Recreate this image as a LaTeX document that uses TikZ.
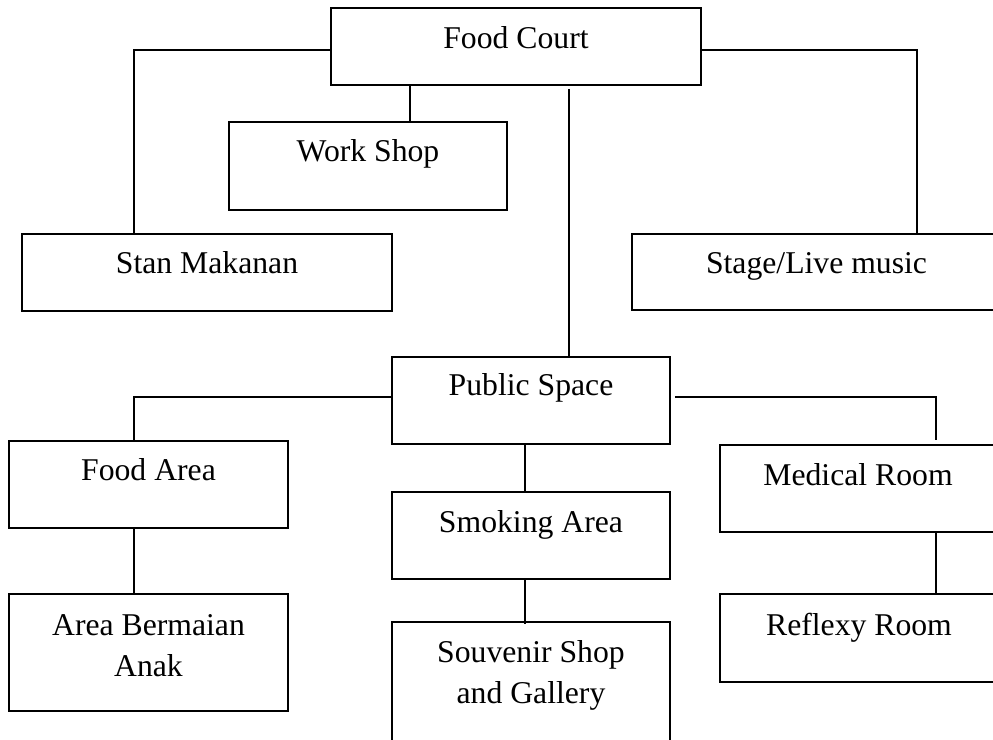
\documentclass[tikz,border=0pt]{standalone}
\usepackage{fontspec}
\setmainfont{Liberation Serif}
\usetikzlibrary{fit}

\tikzset{
  box/.style={draw, rectangle, inner sep=0pt, line width=0.75pt},
  txt/.style={anchor=base, inner sep=0pt, align=center,
    font=\fontsize{15.85}{20.5}\selectfont},
  link/.style={draw, line width=0.75pt},
}

\begin{document}
\begin{tikzpicture}[x=0.5pt, y=-0.5pt]
  \clip (0,0) rectangle (993,740);
  \fill[white] (0,0) rectangle (993,740);

  % boxes
  \node[box, fit={(331,8)(701,85)}]    (fc) {};
  \node[box, fit={(229,122)(507,210)}] (ws) {};
  \node[box, fit={(22,234)(392,311)}]  (sm) {};
  \node[box, fit={(632,234)(1001,310)}] (st) {};
  \node[box, fit={(392,357)(670,444)}] (ps) {};
  \node[box, fit={(9,441)(288,528)}]   (fa) {};
  \node[box, fit={(9,594)(288,711)}]   (ab) {};
  \node[box, fit={(392,492)(670,579)}] (sa) {};
  \node[box, fit={(392,622)(670,760)}] (sv) {};
  \node[box, fit={(720,445)(1001,532)}] (mr) {};
  \node[box, fit={(720,594)(1001,682)}] (rr) {};

  % labels (base = baseline of the last line)
  \node[txt] (fc-t) at (516,48)   {Food Court};
  \node[txt] (ws-t) at (368,161)  {Work Shop};
  \node[txt] (sm-t) at (207,273)  {Stan Makanan};
  \node[txt] (st-t) at (816.5,273) {Stage/Live music};
  \node[txt] (ps-t) at (531,395)  {Public Space};
  \node[txt] (fa-t) at (148.5,480) {Food Area};
  \node[txt] (ab-t) at (148.5,676) {Area Bermaian\\Anak};
  \node[txt] (sa-t) at (531,532)  {Smoking Area};
  \node[txt] (sv-t) at (531,703)  {Souvenir Shop\\and Gallery};
  \node[txt] (mr-t) at (858,485)  {Medical Room};
  \node[txt] (rr-t) at (859,635)  {Reflexy Room};

  % junction points of the connectors
  \coordinate (jl)  at (134,50);
  \coordinate (jr)  at (917,50);
  \coordinate (cws) at (410,0);
  \coordinate (cps) at (569,0);
  \coordinate (jfa) at (134,397);
  \coordinate (jmr) at (936,397);
  \coordinate (csa) at (525,0);

  % connectors
  \draw[link] (fc.west |- jl) -- (jl) -- (jl |- sm.north);
  \draw[link] (fc.east |- jr) -- (jr) -- (jr |- st.north);
  \draw[link] (cws |- fc.south) -- (cws |- ws.north);
  \draw[link, shorten <=1.5pt] (cps |- fc.south) -- (cps |- ps.north);
  \draw[link] (ps.west |- jfa) -- (jfa) -- (jfa |- fa.north);
  \draw[link, shorten <=2pt, shorten >=2pt] (ps.east |- jmr) -- (jmr) -- (jmr |- mr.north);
  \draw[link] (csa |- ps.south) -- (csa |- sa.north);
  \draw[link, shorten >=-1.5pt] (csa |- sa.south) -- (csa |- sv.north);
  \draw[link] (jfa |- fa.south) -- (jfa |- ab.north);
  \draw[link] (jmr |- mr.south) -- (jmr |- rr.north);
\end{tikzpicture}
\end{document}
